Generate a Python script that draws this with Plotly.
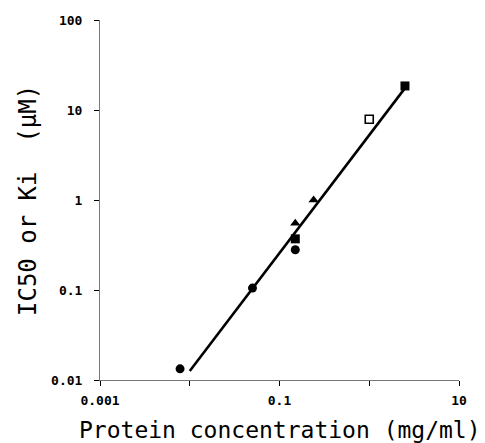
import plotly.graph_objects as go

# data (mg/ml, uM)
circle_x = [0.0078, 0.05, 0.15]
circle_y = [0.0133, 0.105, 0.28]
fsquare_x = [0.15, 2.5]
fsquare_y = [0.37, 18.5]
osquare_x = [1.0]
osquare_y = [7.9]
tri_x = [0.15, 0.24]
tri_y = [0.55, 1.0]
fit_x = [0.01, 2.5]
fit_y = [0.0126, 17.5]

x_tickvals = [0.001, 0.01, 0.1, 1, 10]
x_ticktext = ["0.001", "", "0.1", "", "10"]
y_tickvals = [0.01, 0.1, 1, 10, 100]
y_ticktext = ["0.01", "0.1", "1", "10", "100"]

fig = go.Figure()
fig.add_trace(go.Scatter(x=fit_x, y=fit_y, mode="lines",
                         line=dict(color="black", width=2.6), showlegend=False))
fig.add_trace(go.Scatter(x=circle_x, y=circle_y, mode="markers",
                         marker=dict(symbol="circle", size=9, color="black"), showlegend=False))
fig.add_trace(go.Scatter(x=fsquare_x, y=fsquare_y, mode="markers",
                         marker=dict(symbol="square", size=9, color="black"), showlegend=False))
fig.add_trace(go.Scatter(x=osquare_x, y=osquare_y, mode="markers",
                         marker=dict(symbol="square-open", size=8, color="black",
                                     line=dict(width=1.6, color="black")), showlegend=False))
fig.add_trace(go.Scatter(x=tri_x, y=tri_y, mode="markers",
                         marker=dict(symbol="triangle-up", size=9, color="black"), showlegend=False))

tickfont = dict(family="DejaVu Sans Mono", size=13, color="black", weight="bold")

fig.update_layout(
    width=485, height=443,
    margin=dict(l=100, r=26, t=20, b=63),
    paper_bgcolor="white", plot_bgcolor="white",
    xaxis=dict(type="log", range=[-3, 1], tickvals=x_tickvals, ticktext=x_ticktext,
               showgrid=False, zeroline=False, showline=True, linecolor="#777", linewidth=1,
               ticks="outside", ticklen=5, tickcolor="black", tickwidth=1,
               ticklabelstandoff=3, tickfont=tickfont),
    yaxis=dict(type="log", range=[-2, 2], tickvals=y_tickvals, ticktext=y_ticktext,
               showgrid=False, zeroline=False, showline=True, linecolor="#777", linewidth=1,
               ticks="outside", ticklen=5, tickcolor="black", tickwidth=1,
               ticklabelstandoff=9, tickfont=tickfont),
    annotations=[
        dict(text="Protein concentration (mg/ml)", xref="paper", yref="paper",
             x=0.5, y=0, xanchor="center", yanchor="middle", yshift=-50,
             showarrow=False, font=dict(family="DejaVu Sans Mono", size=23, color="black")),
        dict(text="IC50 or Ki  (μM)", xref="paper", yref="paper",
             x=0, y=0.5, xanchor="center", yanchor="middle", xshift=-72, yshift=-1,
             textangle=-90, showarrow=False,
             font=dict(family="DejaVu Sans Mono", size=24, color="black")),
    ],
)

fig.write_html("out.html")
